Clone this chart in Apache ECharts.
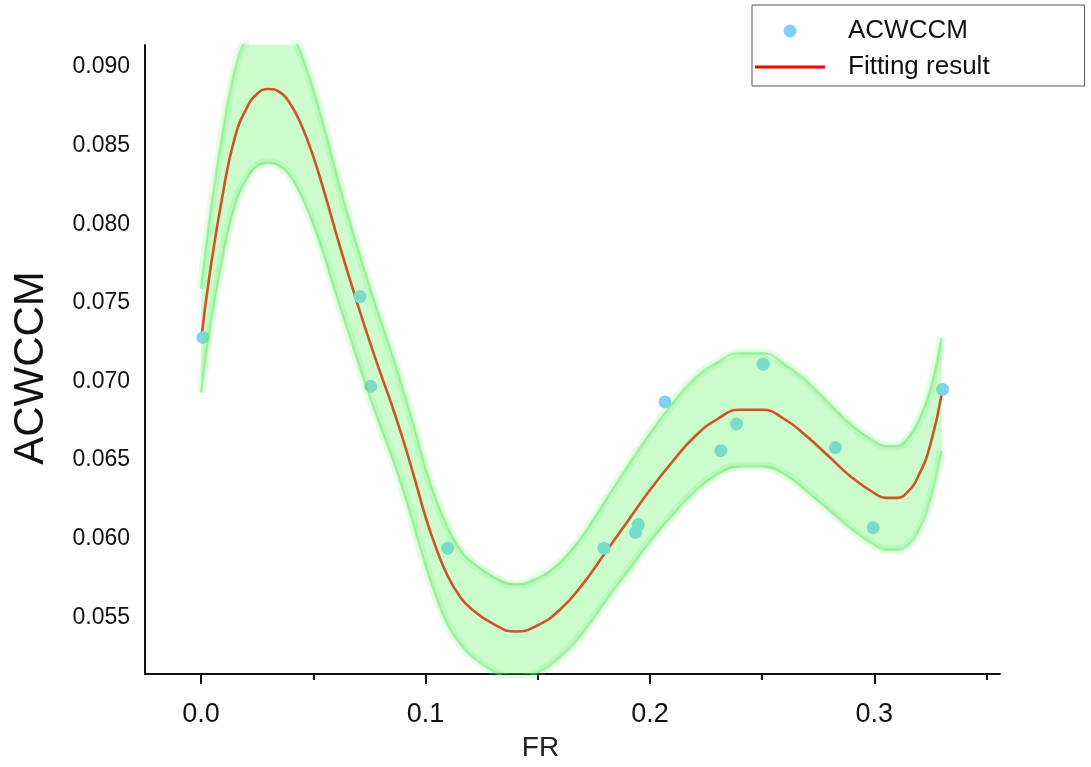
<!DOCTYPE html>
<html>
<head>
<meta charset="utf-8">
<script src="https://cdn.jsdelivr.net/npm/echarts@6/dist/echarts.min.js"></script>
<style>html,body{margin:0;padding:0;background:#fff;overflow:hidden}#c{width:1091px;height:767px}</style>
</head>
<body>
<div id="c"></div>
<script>
// Measured points (FR, ACWCCM)
var pointFR = [0.0008, 0.0708, 0.0756, 0.1099, 0.1795, 0.1936, 0.1948, 0.2067, 0.2316, 0.2386, 0.2505, 0.2827, 0.2995, 0.3304];
var pointACWCCM = [0.0728, 0.0754, 0.0697, 0.0594, 0.0594, 0.0604, 0.0609, 0.0687, 0.0656, 0.0673, 0.0711, 0.0658, 0.0607, 0.0695];

// Fitted curve and its band, read at these FR positions
var gridFR = [0, 0.004, 0.01, 0.015, 0.02, 0.025, 0.03, 0.035, 0.04, 0.045, 0.05, 0.055, 0.06, 0.065, 0.07, 0.075, 0.08, 0.085, 0.09, 0.095, 0.1, 0.105, 0.11, 0.115, 0.12, 0.13, 0.14, 0.15, 0.16, 0.17, 0.18, 0.19, 0.2, 0.21, 0.22, 0.23, 0.24, 0.25, 0.26, 0.27, 0.28, 0.29, 0.3, 0.305, 0.31, 0.315, 0.32, 0.325, 0.33];
var fitValues = [0.0726, 0.0770, 0.0822, 0.0855, 0.0873, 0.0883, 0.0886, 0.0884, 0.0876, 0.0862, 0.0843, 0.0820, 0.0795, 0.0771, 0.0748, 0.0726, 0.0705, 0.0685, 0.0663, 0.0639, 0.0614, 0.0593, 0.0576, 0.0564, 0.0556, 0.0546, 0.0541, 0.0545, 0.0555, 0.0571, 0.0591, 0.0611, 0.0631, 0.0649, 0.0665, 0.0676, 0.0682, 0.0682, 0.0676, 0.0665, 0.0652, 0.0639, 0.0629, 0.0626, 0.0626, 0.0630, 0.0641, 0.0660, 0.0692];
var bandLower = [0.0693, 0.0734, 0.0782, 0.0812, 0.0828, 0.0837, 0.0839, 0.0837, 0.0830, 0.0817, 0.0800, 0.0779, 0.0756, 0.0734, 0.0712, 0.0691, 0.0671, 0.0652, 0.0631, 0.0607, 0.0583, 0.0562, 0.0545, 0.0534, 0.0526, 0.0516, 0.0511, 0.0515, 0.0525, 0.0540, 0.0560, 0.0579, 0.0598, 0.0615, 0.0630, 0.0641, 0.0646, 0.0646, 0.0641, 0.0630, 0.0618, 0.0606, 0.0596, 0.0593, 0.0593, 0.0596, 0.0606, 0.0625, 0.0656];
var bandUpper = [0.0759, 0.0806, 0.0862, 0.0898, 0.0918, 0.0929, 0.0933, 0.0931, 0.0922, 0.0907, 0.0886, 0.0861, 0.0834, 0.0808, 0.0784, 0.0761, 0.0739, 0.0718, 0.0695, 0.0671, 0.0645, 0.0624, 0.0607, 0.0594, 0.0586, 0.0576, 0.0571, 0.0575, 0.0585, 0.0602, 0.0624, 0.0646, 0.0667, 0.0686, 0.0702, 0.0712, 0.0718, 0.0718, 0.0711, 0.0700, 0.0686, 0.0672, 0.0662, 0.0659, 0.0659, 0.0664, 0.0676, 0.0695, 0.0728];

// Tick labels
var xMajorTicks = [0, 0.1, 0.2, 0.3];
var xMinorTicks = [0.05, 0.15, 0.25, 0.35];
var yTicks = [0.055, 0.060, 0.065, 0.070, 0.075, 0.080, 0.085, 0.090];

function pairs(xs, ys) { return xs.map(function (x, i) { return [x, ys[i]]; }); }

var H = window.innerHeight || 767;
var W = window.innerWidth || 1091;
var el = document.getElementById('c');
el.style.height = H + 'px';
el.style.width = W + 'px';
var chart = echarts.init(el, null, { renderer: 'canvas', width: W, height: H });
var FONT = '"Liberation Sans", Arial, sans-serif';
var xMin = -0.025, xMax = 0.356;
var axisY = 678;

var option = {
  animation: false,
  backgroundColor: '#ffffff',
  grid: { left: 145, right: W - 1000, top: 45, bottom: H - axisY, containLabel: false },
  legend: {
    left: 752, top: 5,
    orient: 'vertical',
    data: [
      { name: 'ACWCCM', icon: 'circle' },
      { name: 'Fitting result', icon: 'path://M0,0 L70,0 L70,3 L0,3 Z' }
    ],
    itemWidth: 70, itemHeight: 13, itemGap: 10,
    padding: [13, 95, 6, 3],
    borderColor: '#555', borderWidth: 1,
    textStyle: { fontFamily: FONT, fontSize: 26, color: '#111', padding: [0, 0, 0, 18] }
  },
  xAxis: [{
    type: 'value', min: xMin, max: xMax,
    name: 'FR', nameLocation: 'middle', nameGap: 60,
    nameTextStyle: { fontFamily: FONT, fontSize: 28, color: '#222', padding: [0, 64, 0, 0] },
    axisLine: { show: true, onZero: false, lineStyle: { color: '#111', width: 2 } },
    axisTick: { show: true, length: 10, lineStyle: { color: '#111', width: 2 }, customValues: xMajorTicks },
    axisLabel: { fontFamily: FONT, fontSize: 27, color: '#111', margin: 27, customValues: xMajorTicks,
      formatter: function (v) { return v.toFixed(1); } },
    splitLine: { show: false }
  }, {
    type: 'value', min: xMin, max: xMax, position: 'bottom',
    axisLine: { show: false },
    axisTick: { show: true, length: 6, lineStyle: { color: '#111', width: 2 }, customValues: xMinorTicks },
    axisLabel: { show: false },
    splitLine: { show: false }
  }],
  yAxis: {
    type: 'value', min: 0.0514, max: 0.0914,
    name: 'ACWCCM', nameLocation: 'middle', nameGap: 93, nameRotate: 90,
    nameTextStyle: { fontFamily: FONT, fontSize: 42, color: '#111', padding: [0, 17, 0, 0] },
    axisLine: { show: true, onZero: false, lineStyle: { color: '#111', width: 2 } },
    axisTick: { show: false },
    axisLabel: { fontFamily: FONT, fontSize: 23, color: '#111', margin: 15, customValues: yTicks,
      formatter: function (v) { return v.toFixed(3); } },
    splitLine: { show: false }
  },
  series: [
    {
      name: 'ACWCCM', type: 'scatter', z: 2,
      data: pairs(pointFR, pointACWCCM),
      symbol: 'circle', symbolSize: 13,
      itemStyle: { color: '#7fd0fb', opacity: 1 }
    },
    {
      name: 'Fitting result', type: 'line', z: 2,
      data: pairs(gridFR, fitValues),
      smooth: 0.5, symbol: 'none',
      lineStyle: { color: '#ff0000', width: 2.6 },
      itemStyle: { color: '#ff0000' }
    },
    {
      name: 'band', type: 'custom', z: 3, silent: true, clip: true,
      data: pairs(gridFR, bandLower),
      renderItem: function (params, api) {
        if (params.dataIndex !== 0) return null;
        var pts = [];
        for (var i = 0; i < gridFR.length; i++) pts.push(api.coord([gridFR[i], bandUpper[i]]));
        for (var j = gridFR.length - 1; j >= 0; j--) pts.push(api.coord([gridFR[j], bandLower[j]]));
        return {
          type: 'polygon',
          shape: { points: pts },
          style: { fill: 'rgba(108,244,108,0.35)', stroke: null }
        };
      }
    },
    {
      name: 'upperGlow', type: 'line', z: 4, silent: true,
      data: pairs(gridFR, bandUpper), smooth: 0.5, symbol: 'none',
      lineStyle: { color: 'rgba(110,240,110,0.18)', width: 9 }
    },
    {
      name: 'lowerGlow', type: 'line', z: 4, silent: true,
      data: pairs(gridFR, bandLower), smooth: 0.5, symbol: 'none',
      lineStyle: { color: 'rgba(110,240,110,0.18)', width: 9 }
    },
    {
      name: 'upperEdge', type: 'line', z: 4, silent: true,
      data: pairs(gridFR, bandUpper), smooth: 0.5, symbol: 'none',
      lineStyle: { color: 'rgba(90,232,90,0.45)', width: 2.5 }
    },
    {
      name: 'lowerEdge', type: 'line', z: 4, silent: true,
      data: pairs(gridFR, bandLower), smooth: 0.5, symbol: 'none',
      lineStyle: { color: 'rgba(90,232,90,0.45)', width: 2.5 }
    }
  ]
};
chart.setOption(option);
</script>
</body>
</html>
